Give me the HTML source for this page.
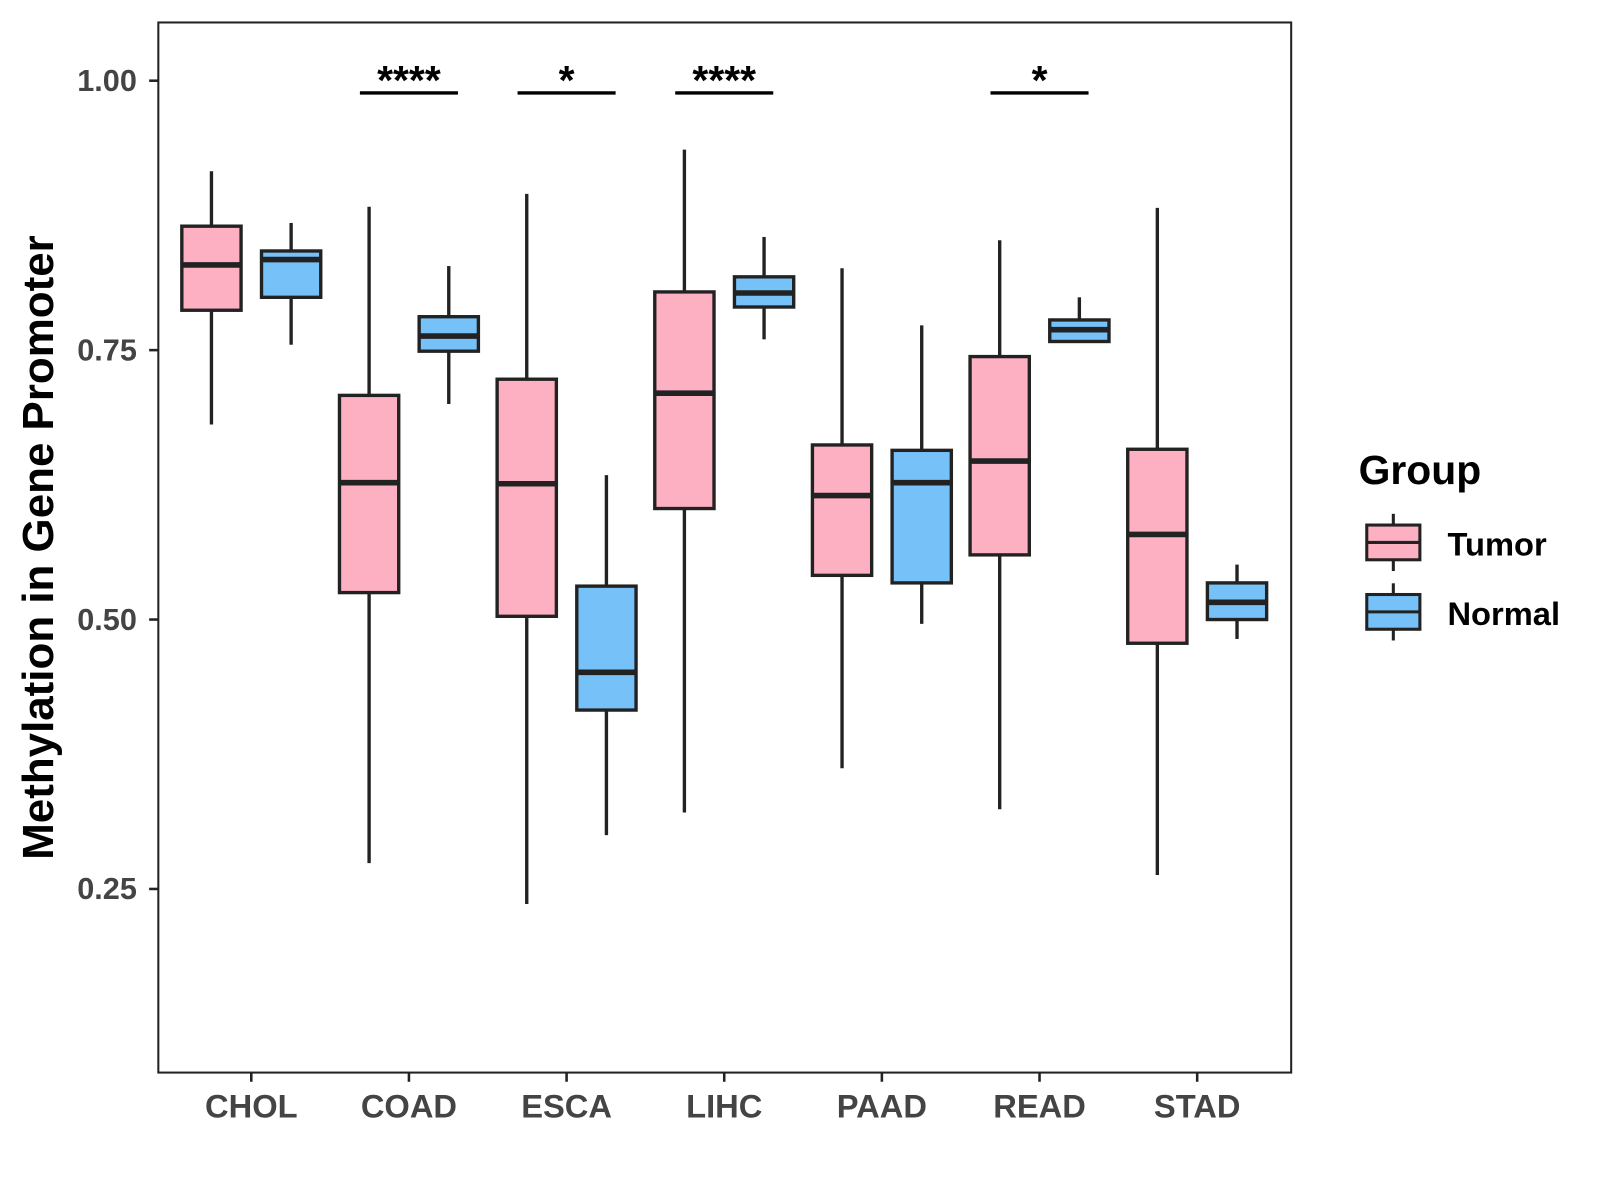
<!DOCTYPE html>
<html><head><meta charset="utf-8"><style>
html,body{margin:0;padding:0;background:#fff;}
svg{display:block;font-family:"Liberation Sans",Arial,sans-serif;}
</style></head><body>
<svg id="svgroot" width="1600" height="1200" viewBox="0 0 1600 1200">
<rect x="0" y="0" width="1600" height="1200" fill="#fff"/>
<g id="chart" transform="scale(1.0215)">
<g id="plot"></g>
<rect x="155" y="22" width="1109" height="1028" fill="none" stroke="#222" stroke-width="2"/>
<text transform="translate(52,536) rotate(-90)" text-anchor="middle" font-size="43" font-weight="bold" fill="#000">Methylation in Gene Promoter</text>
<g>
<text x="1330" y="474" font-size="40" font-weight="bold" fill="#000">Group</text>
<g>
<line x1="1364" y1="503" x2="1364" y2="559" stroke="#222" stroke-width="3"/>
<rect x="1338" y="514" width="52" height="34" fill="#FDB0C2" stroke="#222" stroke-width="3"/>
<line x1="1338" y1="531" x2="1390" y2="531" stroke="#222" stroke-width="3"/>
<text x="1417" y="544" font-size="32" font-weight="bold" fill="#000">Tumor</text>
</g>
<g>
<line x1="1364" y1="571" x2="1364" y2="627" stroke="#222" stroke-width="3"/>
<rect x="1338" y="582" width="52" height="34" fill="#75C1F8" stroke="#222" stroke-width="3"/>
<line x1="1338" y1="599" x2="1390" y2="599" stroke="#222" stroke-width="3"/>
<text x="1417" y="612" font-size="32" font-weight="bold" fill="#000">Normal</text>
</g>
</g>
</g>
</svg>
<script>
const categories = ["CHOL","COAD","ESCA","LIHC","PAAD","READ","STAD"];
// [low, q1, median, q3, high]
const tumorStats = [
 [0.681,0.787,0.829,0.865,0.916],
 [0.274,0.525,0.627,0.708,0.883],
 [0.236,0.503,0.626,0.723,0.895],
 [0.321,0.603,0.710,0.804,0.936],
 [0.362,0.541,0.615,0.662,0.826],
 [0.324,0.560,0.647,0.744,0.852],
 [0.263,0.478,0.579,0.658,0.882]
];
const normalStats = [
 [0.755,0.799,0.834,0.842,0.868],
 [0.700,0.749,0.763,0.781,0.828],
 [0.300,0.416,0.451,0.531,0.634],
 [0.760,0.790,0.803,0.818,0.855],
 [0.496,0.534,0.627,0.657,0.773],
 [0.758,0.758,0.769,0.778,0.799],
 [0.482,0.500,0.516,0.534,0.551]
];
const yTicks = [0.25,0.50,0.75,1.00];
const yTickLabels = ["0.25","0.50","0.75","1.00"];
const sigCategories = ["COAD","ESCA","LIHC","READ"];
const sigLabels = ["****","*","****","*"];

const NS="http://www.w3.org/2000/svg";
const yScale = v => 79 + (1 - v) * 1055;
const xScale = i => 246 + i * 154.33;
const plot = document.getElementById('plot');
const chart = document.getElementById('chart');
function mk(tag, attrs, parent){
  const e=document.createElementNS(NS,tag);
  for(const k in attrs) e.setAttribute(k,attrs[k]);
  (parent||plot).appendChild(e); return e;
}
function drawBox(cx, s, fill, name){
  const g=mk('g',{});
  
  
  const hw=29;
  mk('line',{x1:cx,x2:cx,y1:yScale(s[4]),y2:yScale(s[3]),stroke:'#222','stroke-width':3.3},g);
  mk('line',{x1:cx,x2:cx,y1:yScale(s[1]),y2:yScale(s[0]),stroke:'#222','stroke-width':3.3},g);
  mk('rect',{x:cx-hw,y:yScale(s[3]),width:hw*2,height:yScale(s[1])-yScale(s[3]),fill:fill,stroke:'#222','stroke-width':3.3},g);
  mk('line',{x1:cx-hw,x2:cx+hw,y1:yScale(s[2]),y2:yScale(s[2]),stroke:'#222','stroke-width':5.5},g);
}
categories.forEach((c,i)=>{
  const cx=xScale(i);
  drawBox(cx-39, tumorStats[i], '#FDB0C2', 'box-tumor-'+c.toLowerCase());
  drawBox(cx+39, normalStats[i], '#75C1F8', 'box-normal-'+c.toLowerCase());
  const t=mk('line',{x1:cx,x2:cx,y1:1050,y2:1059,stroke:'#222','stroke-width':2.5},chart);
  
  
  const l=mk('text',{x:cx,y:1094,'text-anchor':'middle','font-size':32,'font-weight':'bold',fill:'#444'},chart);
  l.textContent=c;
  
  
});
yTicks.forEach((v,i)=>{
  const y=yScale(v);
  const t=mk('line',{x1:146,x2:155,y1:y,y2:y,stroke:'#222','stroke-width':2.5},chart);
  
  
  const l=mk('text',{x:134,y:y+10,'text-anchor':'end','font-size':30,'font-weight':'bold',fill:'#444'},chart);
  l.textContent=yTickLabels[i];
  
  
});
sigCategories.forEach((c,i)=>{
  const cx=xScale(categories.indexOf(c));
  const b=mk('line',{x1:cx-48,x2:cx+48,y1:91,y2:91,stroke:'#000','stroke-width':3.3});
  
  
  const t=mk('text',{x:cx,y:92,'text-anchor':'middle','font-size':40,'font-weight':'bold',fill:'#000'});
  t.textContent=sigLabels[i];
  
  
});
</script>
</body></html>
